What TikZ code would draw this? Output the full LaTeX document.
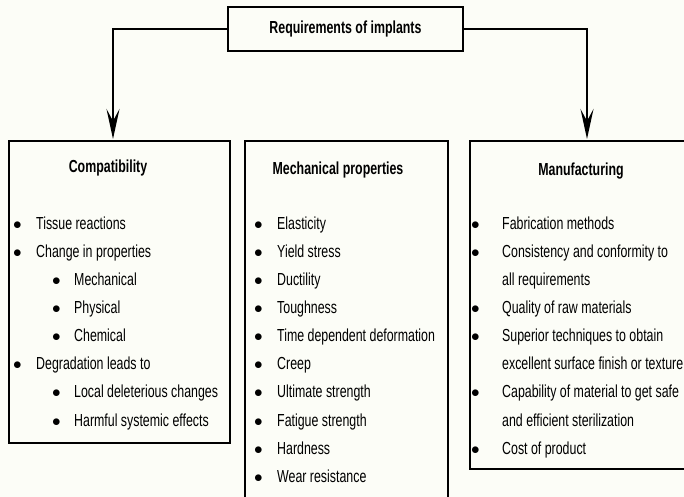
\documentclass[tikz,border=0pt]{standalone}
\usepackage{fontspec}
\setmainfont{Liberation Sans}[FakeStretch=0.71]
\usetikzlibrary{arrows.meta,positioning}
\definecolor{paper}{RGB}{252,253,247}
\tikzset
{
    topbox/.style   = {rectangle, draw=black, line width=2bp, fill=paper, minimum width=235bp, minimum height=44bp, font=\bfseries\fontsize{17.5}{20}\selectfont},
    colbox/.style   = {rectangle, draw=black, line width=2bp, fill=paper, anchor=north west},
    coltitle/.style = {anchor=base, inner sep=0pt, font=\bfseries\fontsize{17.5}{20}\selectfont},
    itemlist/.style = {anchor=north west, inner sep=0pt, align=left, font=\fontsize{17.5}{28.2}\selectfont},
    arrow/.style    = {line width=2bp, ->, >={Stealth[length=30bp, width=13bp, inset=12bp]}}
}
\newcommand\itm{\makebox[23bp][l]{$\bullet$}}
\newcommand\subitm{\hspace*{39bp}\makebox[22bp][l]{$\bullet$}}
\newcommand\mitm{\makebox[31bp][l]{$\bullet$}}

\begin{document}
\begin{tikzpicture}[x=1bp, y=-1bp]

   \fill[paper] (0,0) rectangle (684,497);
   \useasboundingbox (0,0) rectangle (684,497);
   \clip (0,0) rectangle (684,497);

   \node (req)   [topbox]                                        at (345.5, 29)  {Requirements of implants};

   \node (comp)  [colbox, minimum width=221bp, minimum height=302bp] at (8, 140)   {};
   \node (mech)  [colbox, minimum width=203bp, minimum height=380bp] at (244, 140) {};
   \node (manuf) [colbox, minimum width=235bp, minimum height=328bp] at (469, 140) {};

   \node (compt)  [coltitle] at (108, 173) {Compatibility};
   \node (mecht)  [coltitle] at (338, 175) {Mechanical properties};
   \node (manuft) [coltitle] at (581, 176) {Manufacturing};

   \node (compl)  [itemlist] at (13, 216.5)
      {\itm Tissue reactions\\
       \itm Change in properties\\
       \subitm Mechanical\\
       \subitm Physical\\
       \subitm Chemical\\
       \itm Degradation leads to\\
       \subitm Local deleterious changes\\
       \subitm Harmful systemic effects};

   \node (mechl)  [itemlist] at (254, 216.5)
      {\itm Elasticity\\
       \itm Yield stress\\
       \itm Ductility\\
       \itm Toughness\\
       \itm Time dependent deformation\\
       \itm Creep\\
       \itm Ultimate strength\\
       \itm Fatigue strength\\
       \itm Hardness\\
       \itm Wear resistance};

   \node (manufl) [itemlist] at (471, 216.5)
      {\mitm Fabrication methods\\
       \mitm Consistency and conformity to\\
       \hspace*{31bp}all requirements\\
       \mitm Quality of raw materials\\
       \mitm Superior techniques to obtain\\
       \hspace*{31bp}excellent surface finish or texture\\
       \mitm Capability of material to get safe\\
       \hspace*{31bp}and efficient sterilization\\
       \mitm Cost of product};

   \coordinate (compin)  at (113, 139);
   \coordinate (manufin) at (587, 139);

   \draw[arrow] (req.west) -| (compin);
   \draw[arrow] (req.east) -| (manufin);
\end{tikzpicture}
\end{document}
